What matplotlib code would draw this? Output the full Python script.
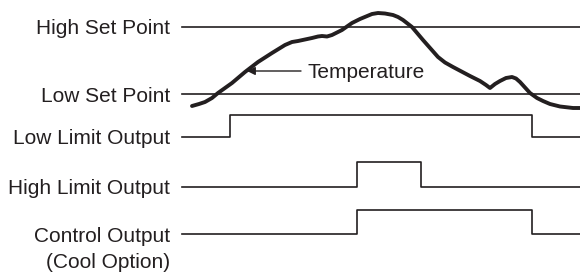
import matplotlib.pyplot as plt

# signal names on the left
labels = ['High Set Point', 'Low Set Point', 'Low Limit Output',
          'High Limit Output', 'Control Output', '(Cool Option)']

# temperature trace
temp_x = [192, 199, 205, 212, 218, 232, 245, 258, 272, 285, 292, 298, 312, 318,
          322, 327, 332, 337, 342, 352, 360, 366, 372, 378, 385, 393, 398, 403,
          412, 423, 438, 445, 453, 470, 480, 486, 490, 495, 500, 506, 512, 516,
          520, 530, 537, 543, 550, 560, 573, 580]
temp_y = [106, 104, 102, 98, 93, 83, 72, 62, 53, 45, 42, 41, 38, 36.5,
          36, 36.5, 35, 32.5, 30, 23, 19, 16.5, 14, 13, 13.5, 15, 17, 20,
          27, 40, 57, 62.5, 67, 76, 81, 85, 88, 84, 81, 78, 77, 78.5,
          82, 93, 98, 101, 104, 106.5, 108, 108]

# set point levels
high_sp = 27
low_sp = 94

# digital outputs: (low level, high level, on time, off time)
low_limit = (137, 115, 230, 532)
high_limit = (187, 162, 357, 421)
control = (234, 210, 357, 532)

x_start, x_end = 182, 580
ink = '#231f20'

plt.rcParams['font.family'] = ['Liberation Sans', 'DejaVu Sans']
fig = plt.figure(figsize=(5.8, 2.74), dpi=100)
ax = fig.add_axes([0, 0, 1, 1])
ax.set_xlim(0, 580)
ax.set_ylim(274, 0)
ax.axis('off')

ax.plot([x_start, x_end], [high_sp, high_sp], color=ink, lw=1.2)
ax.plot([x_start, x_end], [low_sp, low_sp], color=ink, lw=1.2)

for lo, hi, t_on, t_off in (low_limit, high_limit, control):
    ax.plot([x_start, t_on, t_on, t_off, t_off, x_end],
            [lo, lo, hi, hi, lo, lo], color=ink, lw=1.2)

ax.plot(temp_x, temp_y, color=ink, lw=2.8, solid_capstyle='round',
        solid_joinstyle='round')

ax.annotate('', xy=(247, 71), xytext=(301, 71),
            arrowprops=dict(arrowstyle='-|>', color=ink, lw=1.0,
                            mutation_scale=12, shrinkA=0, shrinkB=0))
ax.text(307, 71 + 7.5, 'Temperature', ha='left', va='baseline', fontsize=15, color=ink)

label_y = [27, 94, 137, 187, 234, 261]
for lab, y in zip(labels, label_y):
    ax.text(170, y + 7.5, lab, ha='right', va='baseline', fontsize=15, color=ink)

fig.savefig('out.png', dpi=100)
